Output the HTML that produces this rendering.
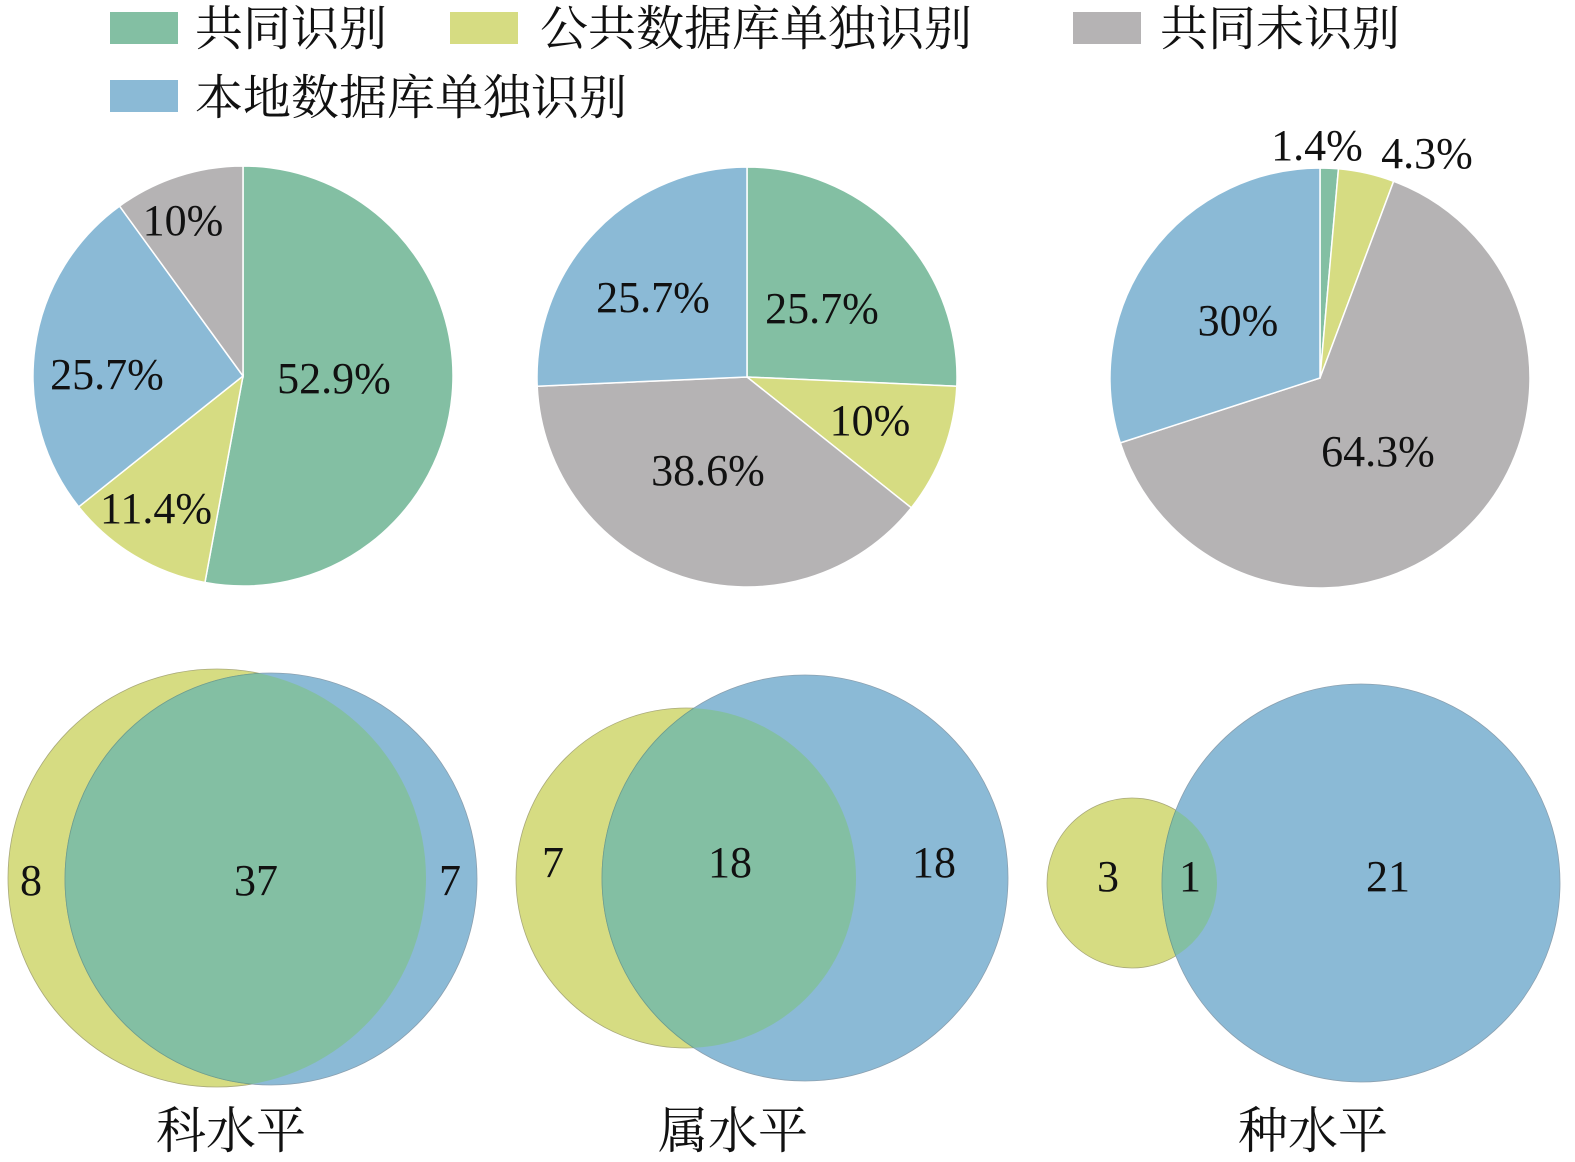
<!DOCTYPE html>
<html><head><meta charset="utf-8"><style>
html,body{margin:0;padding:0;background:#fff;}
svg{display:block;}
.cjk{font-family:"Liberation Serif","Noto Serif CJK SC",serif;}
.num{font-family:"Liberation Serif",serif;fill:#111;}
</style></head><body>
<svg id="chart" width="1575" height="1162" viewBox="0 0 1575 1162">
<defs>
<clipPath id="c1"><circle cx="217" cy="878" r="209"/></clipPath>
<clipPath id="c2"><circle cx="686" cy="878" r="170"/></clipPath>
<clipPath id="c3"><circle cx="1132" cy="883" r="85"/></clipPath>
</defs>
<g>
<rect x="110" y="12" width="68" height="32" fill="#83bfa3"/>
<text x="195" y="45" font-size="48" class="cjk" fill="#111">共同识别</text>
<rect x="450" y="12" width="68" height="32" fill="#d6dc82"/>
<text x="540" y="45" font-size="48" class="cjk" fill="#111">公共数据库单独识别</text>
<rect x="1073" y="12" width="68" height="32" fill="#b5b3b4"/>
<text x="1160" y="45" font-size="48" class="cjk" fill="#111">共同未识别</text>
<rect x="110" y="80" width="68" height="32" fill="#8bbad6"/>
<text x="195" y="114" font-size="48" class="cjk" fill="#111">本地数据库单独识别</text>
</g>
<g id="pies"></g>
<g>
<circle cx="217" cy="878" r="209" fill="#d6dc82" stroke="#a9a97a" stroke-width="0.8"/>
<circle cx="271" cy="879" r="206" fill="#8bbad6" stroke="#8aa0b0" stroke-width="0.8"/>
<circle cx="271" cy="879" r="206" fill="#83bfa3" clip-path="url(#c1)" stroke="#6f9f8c" stroke-width="0.8"/>
<text x="31" y="895" font-size="44" class="num" text-anchor="middle">8</text>
<text x="256" y="895" font-size="44" class="num" text-anchor="middle">37</text>
<text x="450" y="895" font-size="44" class="num" text-anchor="middle">7</text>
</g>
<g>
<circle cx="686" cy="878" r="170" fill="#d6dc82" stroke="#a9a97a" stroke-width="0.8"/>
<circle cx="805" cy="878" r="203" fill="#8bbad6" stroke="#8aa0b0" stroke-width="0.8"/>
<circle cx="805" cy="878" r="203" fill="#83bfa3" clip-path="url(#c2)" stroke="#6f9f8c" stroke-width="0.8"/>
<text x="553" y="877" font-size="44" class="num" text-anchor="middle">7</text>
<text x="730" y="877" font-size="44" class="num" text-anchor="middle">18</text>
<text x="934" y="877" font-size="44" class="num" text-anchor="middle">18</text>
</g>
<g>
<circle cx="1132" cy="883" r="85" fill="#d6dc82" stroke="#a9a97a" stroke-width="0.8"/>
<circle cx="1361" cy="883" r="199" fill="#8bbad6" stroke="#8aa0b0" stroke-width="0.8"/>
<circle cx="1361" cy="883" r="199" fill="#83bfa3" clip-path="url(#c3)" stroke="#6f9f8c" stroke-width="0.8"/>
<text x="1108" y="891" font-size="44" class="num" text-anchor="middle">3</text>
<text x="1190" y="891" font-size="44" class="num" text-anchor="middle">1</text>
<text x="1388" y="891" font-size="44" class="num" text-anchor="middle">21</text>
</g>
<text x="231" y="1148" font-size="50" class="cjk" fill="#111" text-anchor="middle">科水平</text>
<text x="733" y="1148" font-size="50" class="cjk" fill="#111" text-anchor="middle">属水平</text>
<text x="1313" y="1148" font-size="50" class="cjk" fill="#111" text-anchor="middle">种水平</text>
</svg>
<script>
const categories = ["common","public","none","local"];
const colors = {common:"#83bfa3",public:"#d6dc82",none:"#b5b3b4",local:"#8bbad6"};
const pieFamilyOrder = ["common","public","local","none"];
const pieFamilyValues = [52.9,11.4,25.7,10];
const pieGenusOrder = ["common","public","none","local"];
const pieGenusValues = [25.7,10,38.6,25.7];
const pieSpeciesOrder = ["common","public","none","local"];
const pieSpeciesValues = [1.4,4.3,64.3,30];
const pieFamilyLabels = ["52.9%","11.4%","25.7%","10%"];
const pieGenusLabels = ["25.7%","10%","38.6%","25.7%"];
const pieSpeciesLabels = ["1.4%","4.3%","64.3%","30%"];
const NS="http://www.w3.org/2000/svg";
const g=document.getElementById('pies');
function drawPie(name,cx,cy,r,order,vals,labels,labelPos){
  const grp=document.createElementNS(NS,'g');
  
  
  g.appendChild(grp);
  const tot=vals.reduce((a,b)=>a+b,0);
  let a0=0;
  vals.forEach((v,i)=>{
    const a1=a0+v/tot*2*Math.PI;
    const x0=cx+r*Math.sin(a0),y0=cy-r*Math.cos(a0);
    const x1=cx+r*Math.sin(a1),y1=cy-r*Math.cos(a1);
    const p=document.createElementNS(NS,'path');
    p.setAttribute('d',`M${cx},${cy}L${x0},${y0}A${r},${r} 0 ${(a1-a0)>Math.PI?1:0} 1 ${x1},${y1}Z`);
    p.setAttribute('fill',colors[order[i]]);
    p.setAttribute('stroke','#fff');
    p.setAttribute('stroke-width','1.5');
    
    
    grp.appendChild(p);
    const t=document.createElementNS(NS,'text');
    let lx,ly;
    if(labelPos&&labelPos[i]){lx=labelPos[i][0];ly=labelPos[i][1];}
    else{const am=(a0+a1)/2;lx=cx+r*0.55*Math.sin(am);ly=cy-r*0.55*Math.cos(am);}
    t.setAttribute('x',lx);t.setAttribute('y',ly+15);
    t.setAttribute('text-anchor','middle');
    t.setAttribute('font-size','44');
    t.setAttribute('class','num');
    
    
    t.textContent=labels[i];
    grp.appendChild(t);
    a0=a1;
  });
}
drawPie('pie-family',243,376,210,pieFamilyOrder,pieFamilyValues,pieFamilyLabels,[[334,378],[156,508],[107,374],[183,220]]);
drawPie('pie-genus',747,377,210,pieGenusOrder,pieGenusValues,pieGenusLabels,[[822,308],[870,420],[708,470],[653,297]]);
drawPie('pie-species',1320,378,210,pieSpeciesOrder,pieSpeciesValues,pieSpeciesLabels,[[1317,145],[1427,153],[1378,451],[1238,320]]);
</script>
</body></html>
